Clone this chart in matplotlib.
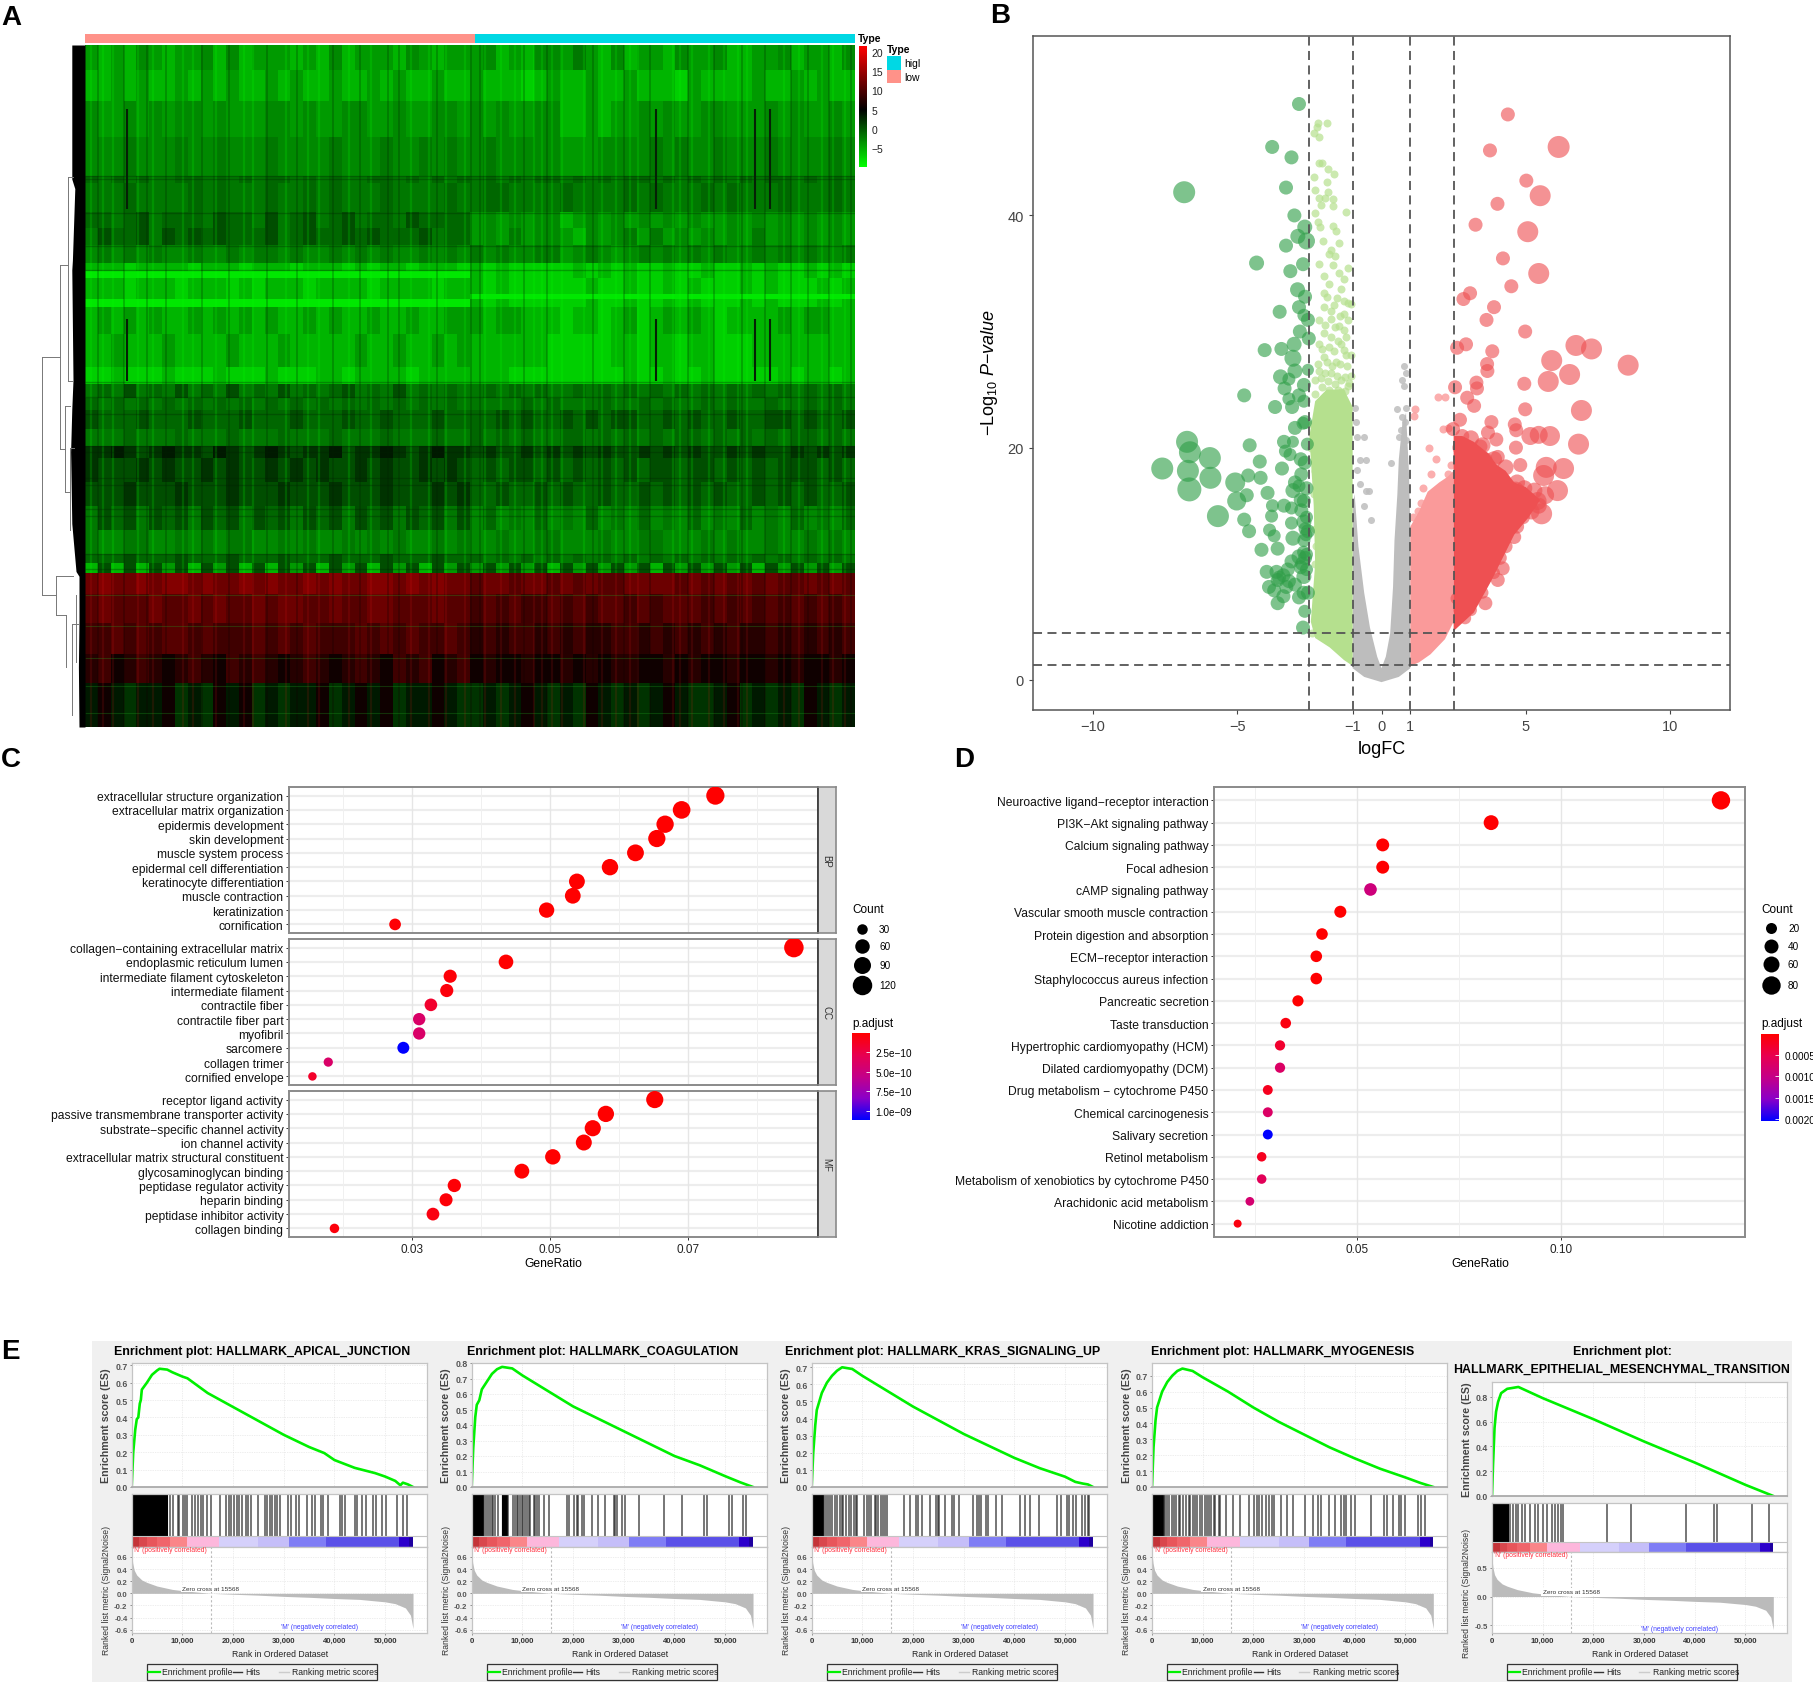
import numpy as np
import matplotlib
matplotlib.use('Agg')
import matplotlib.pyplot as plt
from matplotlib.colors import LinearSegmentedColormap, Normalize
from matplotlib.cm import ScalarMappable
from matplotlib.patches import Rectangle

plt.rcParams['font.family'] = ['Liberation Sans', 'DejaVu Sans']
plt.rcParams['mathtext.fontset'] = 'custom'
plt.rcParams['mathtext.rm'] = 'Liberation Sans'
plt.rcParams['mathtext.it'] = 'Liberation Sans:italic'
plt.rcParams['axes.unicode_minus'] = True

W, H = 1813, 1683

# ---- panel A: heatmap, one string per band of genes, low samples then high samples
heat_edges = [0, 53, 118, 193, 273, 288, 348, 383, 418, 456, 473, 486, 520, 531, 547, 603, 673,
              708, 738, 763, 803, 838, 863, 913, 963, 1013, 1063, 1083, 1103, 1148, 1208, 1273, 1333, 1425]
heat_levels = {'0': -8.5, '1': -7, '2': -5.5, '3': -4, '4': -3, '5': -2, '6': -1, '7': 0.5, '8': 2, '9': 3.5,
               'a': 6, 'b': 7.5, 'c': 9, 'd': 10.5, 'e': 12, 'f': 13.5}
heat_low = [
    "323243233424233323242333243233", "223232232323223232232232322322", "433434344343334434334433433443",
    "444544454454445444454445445454", "656565566565656656565566565656", "555655556565556556565556555565",
    "665675666576657567567566576666", "576675767676667567667676667566", "454545445445455454454545445454",
    "222122221222122212221212212221", "000000000000000000000000000000", "222122212221212221222212222122",
    "222122212221212221222212222122", "000000000000000000000000000000", "232323223232323223232232232233",
    "223222322223222322222322322323", "112111211121112111221222212222", "565756575657565756567565756565",
    "656565656565656565656565656565", "766676667666766676667667666766", "555655565556555655565556555655",
    "889878988798789878897889878988", "877787877878778787877878778787", "777877787778777877787778777878",
    "576757675767576757675767576757", "544554454545544545445454544545", "666766676667666766676667666766",
    "272727372737272737273727372737", "efeefeffefeefefeefefeeffefefee", "dedddeddededdedeeddeddeedddedd",
    "ccdcdcddcdcccdcdcdcccdcdcdccdc", "bcabcbabcbacbcbabcbabcbacbcabc", "9a9899a898a9a89899a89a9a899a98"]
heat_high = [
    "342324435324233243342233423324", "322212322322322213222232232322", "434334422323343433443334343343",
    "454444433344445454454445444454", "565656656565665656565656656565", "566555565555656555656555655565",
    "343434423434343434334343434343", "343534432434535343434353434343", "545445534543454545454454545445",
    "212111112121211211211212112121", "212111112121211211211212112121", "212111111211211212111212111212",
    "000000000000000000000000000000", "212111111211211212111212111212", "323322212212312323212222323322",
    "222222111112212212211122222222", "222111111111211211211111212212", "565656556565656565656565656565",
    "555565655565565655656556556565", "667676676767766767667667767667", "656565566565656566565656566565",
    "787787878787787878778787787878", "676776767676767767767676777676", "667667676676676767676676767667",
    "464546454645464546454645464546", "445445544454455444545445445454", "656565656565656565656565656565",
    "373737273737372737373727373737", "deedeedededdeeeedededededdeded", "cdcdccdcdcddcdcdddcdcdcdcdcdcd",
    "bcbccbcbcbbccbcbcbcbcbbcbcbcbc", "abaabaabababbaababaabaababaaba", "8989a9898a98989a9889a89898a989"]
dark_samples = [3.26, 3.26, 44.5, 44.5, 52.2, 52.2, 53.4, 53.4]
dark_from = [133, 573, 133, 573, 133, 573, 133, 573]
dark_to = [343, 703, 343, 703, 343, 703, 343, 703]
bright_samples = [0.5, 1.4, 2.2, 4.1, 5.3, 7.6, 8.4, 10.2, 12.4, 13.1, 15.7, 17.4, 18.2, 20.6, 22.3, 25.4, 26.8, 28.1,
                  29.6, 31.2, 32.4, 33.5, 35.0, 35.6, 36.4, 37.2, 38.9, 40.3, 41.4, 42.5, 43.1, 45.8, 46.4, 47.3,
                  48.6, 49.8, 50.9, 51.6, 54.5, 55.6, 57.4, 58.3, 59.2]
dark_stripes = [1.0, 3.0, 4.8, 6.3, 9.1, 11.2, 14.2, 16.5, 19.3, 21.4, 23.6, 24.5, 27.4, 30.1, 30.8, 34.2, 36.0, 39.6,
                42.0, 44.0, 47.0, 49.0, 51.2, 53.0, 55.0, 56.3, 58.0, 59.7]
dark_rows = [273, 280, 350, 420, 470, 705, 735, 770, 838, 850, 905, 920, 970, 985, 1063, 1095]
speckle_rows = [1150, 1213, 1280, 1340, 1395]
type_split = 30.4
heat_ticks = [20, 15, 10, 5, 0, -5]

# dendrogram, heights and gene rows
dend_h0 = [71, 71, 71, 42, 42, 42, 28, 33, 33, 33, 25, 48, 48, 48, 32, 22, 15, 22, 28, 28, 25]
dend_r0 = [651, 651, 1150, 460, 460, 845, 276, 755, 755, 933, 843, 1110, 1110, 1190, 1190, 1210, 1150, 1210, 276, 703, 843]
dend_h1 = [71, 42, 48, 42, 28, 33, 28, 33, 25, 25, 25, 48, 20, 32, 32, 22, 15, 12, 20, 20, 18]
dend_r1 = [1150, 651, 1150, 845, 460, 845, 703, 933, 755, 933, 1013, 1190, 1110, 1190, 1300, 1400, 1290, 1210, 276, 703, 843]
leaf_rows = [0, 280, 300, 450, 470, 700, 760, 850, 1000, 1100, 1110, 1200, 1300, 1425]
leaf_height = [22, 22, 17, 21, 22, 20, 22, 24, 22, 15, 10, 10, 11, 10]

# ---- panel B: volcano
dgreen_fc = [-2.86, -3.79, -3.12, -6.84, -3.31, -3.02, -2.66, -2.90, -2.60, -3.31, -4.33, -2.72, -3.16, -2.91, -3.53,
             -2.86, -2.69, -2.83, -2.52, -4.05, -3.47, -3.03, -3.07, -3.0, -2.55, -3.5, -3.21, -2.69, -3.36, -2.86,
             -2.69, -3.21, -4.76, -3.69, -3.0, -2.72, -6.74, -6.64, -5.95, -7.6, -6.71, -5.93, -6.66, -4.57, -3.38,
             -3.07, -2.57, -3.33, -3.17, -4.22, -3.45, -2.66, -4.62, -4.19, -2.78, -5.07, -4.67, -3.95, -3.07, -2.86,
             -5.02, -3.78, -3.38, -2.69, -5.67, -3.12, -2.78, -4.76, -3.81, -3.12, -2.69, -4.59, -3.88, -3.72, -3.07,
             -2.69, -4.16, -3.6, -2.86, -2.6, -3.98, -3.64, -3.12, -2.69, -3.72, -3.21, -2.86, -3.6, -2.66, -2.72,
             -2.6, -2.7, -3.4, -2.65, -3.3, -2.75, -3.55, -2.6, -2.8, -2.62,
             -2.7, -3.0, -3.4, -2.55, -3.25, -3.6, -3.9, -2.65, -2.55, -2.8, -3.0, -2.6, -2.8, -2.65, -3.1, -2.55, -2.65]
dgreen_p = [49.6, 45.9, 45.0, 42.0, 42.4, 40.0, 39.0, 38.2, 37.8, 37.4, 35.9, 35.8, 35.2, 33.6, 31.7,
            32.1, 31.4, 30.0, 29.4, 28.4, 28.5, 28.9, 27.7, 26.6, 26.7, 26.1, 25.9, 25.4, 25.1, 24.5,
            24.0, 24.2, 24.5, 23.5, 21.7, 22.1, 20.5, 19.6, 19.1, 18.2, 18.0, 17.4, 16.4, 20.2, 20.5,
            20.5, 20.3, 19.7, 19.4, 18.8, 18.2, 18.7, 17.6, 17.4, 17.7, 17.0, 15.9, 16.1, 16.3, 16.7,
            15.4, 15.0, 15.0, 15.4, 14.1, 14.8, 14.6, 13.8, 14.1, 13.5, 13.6, 12.8, 12.9, 12.4, 12.2,
            12.0, 11.2, 11.3, 10.6, 10.8, 9.3, 9.3, 10.2, 8.9, 7.7, 8.5, 7.1, 6.6, 5.9, 4.5,
            9.5, 11.0, 9.0, 13.0, 8.0, 10.0, 8.8, 14.0, 9.7, 12.5,
            7.5, 8.2, 7.2, 7.5, 9.5, 8.6, 8.0, 10.5, 12.8, 15.5, 17.0, 16.5, 19.0, 22.2, 23.5, 31.0, 33.0]
dgreen_r = [7, 7, 7, 11, 7, 7, 7.5, 7.5, 8.5, 7, 7.5, 7, 7, 7.5, 7,
            7, 6.5, 7, 7, 7, 7, 7.5, 8.5, 7.5, 6, 7.5, 6.5, 7, 7, 7,
            6.5, 6.5, 7, 7, 7, 6.5, 11, 11, 11, 11, 11, 11, 12, 7, 7,
            6, 6.5, 6.5, 6.5, 7, 7, 7, 7, 7, 7, 10, 7, 7, 7.5, 6.5,
            9.5, 6.5, 7, 7, 11, 6.5, 7, 7, 6.5, 6.5, 7.5, 7, 6.5, 6.5, 7.5,
            6.5, 7, 7, 7.5, 6.5, 7, 7, 7, 7.5, 7, 7, 7, 7, 6.5, 7,
            6.5, 6.5, 7, 6.5, 7, 7, 7, 6.5, 7, 6.5,
            7, 7, 7, 7, 7, 7, 7, 7, 7, 7, 7, 7, 7, 7, 7, 7, 7]

dred_fc = [4.38, 6.14, 3.76, 5.02, 5.5, 4.02, 3.26, 5.07, 4.21, 5.45, 4.5, 3.07, 2.84, 3.9, 3.64, 4.98, 2.93, 2.62,
           6.74, 7.28, 3.84, 8.55, 5.9, 3.66, 3.67, 6.52, 5.78, 3.29, 4.95, 2.55, 3.31, 2.97, 3.21, 4.98, 6.93,
           2.72, 3.81, 2.48, 4.62, 3.69, 4.67, 5.16, 5.45, 5.84, 3.98, 6.83, 2.79, 3.43, 4.66, 4.03, 3.17, 4.81,
           5.71, 6.31, 5.62, 3.69, 6.1, 4.64, 5.67, 5.41, 5.55, 4.38, 3.6, 4.03, 4.2, 2.9, 2.8, 3.1, 3.5, 3.9,
           4.1, 4.3, 4.6, 4.7, 4.9, 5.1, 4.9, 4.4, 4.2, 3.9, 3.4, 3.0, 2.7, 2.8, 3.2, 3.6, 2.6, 2.7,
           4.95, 5.3, 5.2, 5.45, 4.7, 4.3, 3.9, 3.5, 3.1]
dred_p = [48.7, 45.9, 45.6, 43.0, 41.7, 41.0, 39.2, 38.6, 36.3, 35.0, 33.9, 33.3, 32.8, 32.1, 31.0, 30.0, 28.9, 28.6,
          28.8, 28.5, 28.3, 27.1, 27.5, 27.2, 26.6, 26.3, 25.7, 25.6, 25.5, 25.2, 25.1, 24.3, 23.6, 23.3, 23.2,
          22.4, 22.2, 21.6, 22.0, 21.3, 21.5, 21.0, 21.1, 21.0, 20.7, 20.3, 20.3, 20.1, 20.0, 19.2, 18.8, 18.5,
          18.3, 18.2, 17.6, 17.9, 16.3, 16.3, 15.9, 15.4, 14.3, 15.4, 6.6, 8.6, 9.6, 5.3, 5.7, 6.0, 7.5, 9.2,
          10.5, 11.5, 12.3, 13.2, 14.0, 15.2, 15.6, 16.5, 17.0, 17.5, 18.5, 19.0, 20.0, 21.0, 19.6, 19.0, 7.0, 6.0,
          16.5, 16.3, 14.5, 15.0, 17.0, 18.3, 19.0, 20.2, 20.8]
dred_r = [7, 11, 7, 7, 10.5, 7, 7, 10.5, 7, 10.5, 7, 7, 7, 7, 7, 7, 7, 7,
          10.5, 10.5, 7, 10.5, 10.5, 7, 7, 10.5, 10.5, 7, 7, 7, 7, 7, 7, 7, 10.5,
          7, 7, 7, 7, 7, 7, 9, 9, 10, 7, 10.5, 7, 7, 7, 7, 7, 7,
          10.5, 10.5, 10.5, 7, 10.5, 9, 9, 9, 10.5, 9, 7, 7, 7, 6, 6, 6, 6, 6,
          7, 7, 7, 7, 7, 8, 7, 8, 7, 7, 7, 7, 7, 7, 7, 7, 6, 6,
          8, 8, 8, 8, 8, 8, 8, 8, 8]
dred_body_x = [2.5, 2.5, 2.8, 3.2, 3.7, 4.0, 4.3, 4.6, 5.0, 5.5, 5.1, 4.6, 4.2, 3.8, 3.2, 2.5]
dred_body_y = [4.2, 21, 21, 20.5, 19.5, 18.5, 18, 17, 16.6, 15.5, 14, 12.5, 10.5, 8.5, 5.8, 4.2]

lgreen_fc = [-2.21, -1.88, -2.24, -2.34, -2.17, -2.17, -2.05, -1.86, -1.66, -2.34, -1.88, -2.31, -1.86, -2.17, -1.97,
             -1.69, -2.09, -1.69, -1.22, -2.31, -2.21, -2.12, -1.69, -1.57, -2.03, -1.48, -1.74, -1.83, -2.17, -1.69,
             -1.17, -2.0, -1.48, -1.83, -1.4, -2.0, -1.05, -1.17, -1.66, -2.0, -1.31, -2.17, -1.74, -1.48, -2.0,
             -1.22, -2.17, -1.83, -1.4, -2.0, -1.57, -1.22, -2.17, -1.74, -1.05, -1.4, -2.09, -1.14, -1.83, -1.4,
             -2.4, -2.35, -2.3, -2.3, -2.2, -2.25, -2.45, -2.3, -2.4, -2.28,
             -1.6, -1.3, -1.9, -1.55, -1.3, -1.75, -1.45, -1.15, -1.95, -1.6, -1.3, -1.75, -1.5, -2.05, -1.65, -1.3,
             -1.05, -1.9, -1.45, -1.2, -2.2, -1.7, -1.95, -1.55, -1.25, -2.3, -1.85, -1.6, -1.15, -2.05, -1.5, -1.25, -2.3]
lgreen_p = [48.0, 48.0, 47.6, 47.1, 46.8, 44.5, 44.5, 44.0, 43.6, 43.3, 42.9, 42.2, 42.0, 41.5, 41.5,
            41.4, 40.9, 40.8, 40.3, 40.2, 39.4, 39.0, 39.1, 38.7, 37.8, 37.6, 37.0, 36.7, 35.8, 35.7,
            35.5, 34.8, 35.0, 34.1, 33.7, 33.3, 32.4, 32.5, 32.3, 32.1, 31.5, 31.0, 31.1, 30.5, 29.9,
            29.5, 28.9, 28.7, 28.9, 27.8, 27.4, 28.0, 26.6, 26.4, 26.2, 25.8, 26.0, 25.6, 25.0, 24.8,
            22.0, 16.0, 13.0, 10.0, 7.0, 5.0, 20.0, 18.0, 4.0, 11.5,
            36.5, 34.5, 33, 32.9, 32.6, 31.8, 31.3, 31, 30.6, 30.4, 30.1, 29.5, 29.2, 28.5, 28.3, 28.4,
            28, 27.4, 27.2, 27, 27.2, 27, 26.4, 26.2, 26.1, 25.8, 25.7, 25.5, 25.3, 25.2, 25, 24.9, 24.6]
lgreen_cloud_x = [-1, -1.3, -1.8, -2.3, -2.45, -2.3, -2.35, -2.5, -2.3, -1.9, -1.3, -1, -1]
lgreen_cloud_y = [1.2, 1.7, 2.8, 3.6, 5, 10, 15, 21, 24, 25, 25, 23.5, 1.2]

pink_fc = [1.97, 2.2, 1.16, 1.12, 2.3, 2.14, 1.66, 1.9, 1.7, 2.3, 1.45, 1.97, 1.36, 2.4, 1.1, 1.25]
pink_p = [24.4, 24.4, 23.3, 22.7, 21.7, 21.6, 20, 19, 17.7, 17.7, 16.5, 16, 15.2, 18.5, 14, 14.5]
pink_cloud_x = [1, 1.3, 1.7, 2.2, 2.5, 2.5, 2.3, 2.0, 1.6, 1.3, 1, 1]
pink_cloud_y = [1.2, 1.5, 2.2, 3.5, 5, 18, 17.5, 17, 16.2, 14.5, 13.2, 1.2]

grey_fc = [0.79, 0.84, 0.72, 0.79, 0.52, 0.84, 0.72, 0.81, 0.67, 0.59, 0.84, 0.76, 0.33, -0.93, -0.88, -0.84, -0.62,
           -0.76, -0.53, -0.84, -0.76, -0.53, -0.45, -0.62, -0.36]
grey_p = [27, 26.4, 25.8, 25.3, 23.3, 23.4, 22.6, 22.2, 21.5, 20.9, 20.7, 19.7, 18.7, 23.4, 22.2, 20.9, 20.9,
          18.9, 18.9, 18.1, 16.9, 16.3, 16.3, 15, 13.8]
grey_cloud_x = [-1, -1, -0.93, -0.8, -0.6, -0.4, -0.15, 0, 0.15, 0.3, 0.4, 0.45, 0.55, 0.6, 0.72, 0.85, 0.95, 1, 1, 0.6, 0, -0.6, -1]
grey_cloud_y = [1, 15, 16, 11.5, 7.5, 4.5, 2, 1, 2, 4, 8, 12, 16, 19, 22, 23, 18, 13, 1, 0.25, -0.2, 0.25, 1]

# ---- panel C: GO dots
go_terms = {
    'BP': ['extracellular structure organization', 'extracellular matrix organization', 'epidermis development',
           'skin development', 'muscle system process', 'epidermal cell differentiation',
           'keratinocyte differentiation', 'muscle contraction', 'keratinization', 'cornification'],
    'CC': ['collagen\u2212containing extracellular matrix', 'endoplasmic reticulum lumen',
           'intermediate filament cytoskeleton', 'intermediate filament', 'contractile fiber',
           'contractile fiber part', 'myofibril', 'sarcomere', 'collagen trimer', 'cornified envelope'],
    'MF': ['receptor ligand activity', 'passive transmembrane transporter activity',
           'substrate\u2212specific channel activity', 'ion channel activity',
           'extracellular matrix structural constituent', 'glycosaminoglycan binding',
           'peptidase regulator activity', 'heparin binding', 'peptidase inhibitor activity', 'collagen binding'],
}
go_ratio = {
    'BP': [.0740, .0691, .0667, .0655, .0624, .0587, .0539, .0533, .0495, .0275],
    'CC': [.0854, .0436, .0355, .0350, .0327, .0310, .0310, .0287, .0178, .0155],
    'MF': [.0652, .0581, .0562, .0549, .0504, .0459, .0361, .0349, .0330, .0187],
}
go_count = {
    'BP': [105, 98, 94, 93, 88, 83, 76, 75, 70, 39],
    'CC': [121, 62, 50, 50, 46, 44, 44, 41, 25, 22],
    'MF': [92, 82, 80, 78, 71, 65, 51, 49, 47, 26],
}
go_padj = {
    'BP': [1e-12, 1e-12, 1e-12, 1e-12, 1e-12, 1e-12, 1e-12, 1e-12, 1e-12, 2e-11],
    'CC': [1e-12, 1e-12, 3e-11, 4e-11, 1.6e-10, 4e-10, 4e-10, 1.12e-9, 4e-10, 1.5e-10],
    'MF': [1e-12, 1e-12, 1e-12, 1e-12, 1e-12, 1e-12, 2e-11, 3e-11, 6e-11, 4e-11],
}
go_xticks = [.03, .05, .07]
go_minor = [.02, .04, .06, .08]
go_size_counts = [30, 60, 90, 120]
go_padj_ticks = [2.5e-10, 5e-10, 7.5e-10, 1e-9]
go_padj_labels = ['2.5e\u221210', '5.0e\u221210', '7.5e\u221210', '1.0e\u221209']

# ---- panel D: KEGG dots
kegg_terms = ['Neuroactive ligand\u2212receptor interaction', 'PI3K\u2212Akt signaling pathway', 'Calcium signaling pathway',
              'Focal adhesion', 'cAMP signaling pathway', 'Vascular smooth muscle contraction',
              'Protein digestion and absorption', 'ECM\u2212receptor interaction', 'Staphylococcus aureus infection',
              'Pancreatic secretion', 'Taste transduction', 'Hypertrophic cardiomyopathy (HCM)',
              'Dilated cardiomyopathy (DCM)', 'Drug metabolism \u2212 cytochrome P450', 'Chemical carcinogenesis',
              'Salivary secretion', 'Retinol metabolism', 'Metabolism of xenobiotics by cytochrome P450',
              'Arachidonic acid metabolism', 'Nicotine addiction']
kegg_ratio = [.1393, .0829, .0563, .0563, .0533, .0459, .0414, .0400, .0400, .0355,
              .0325, .0311, .0311, .0281, .0281, .0281, .0266, .0266, .0237, .0207]
kegg_count = [82, 49, 33, 33, 31, 27, 24, 24, 24, 21, 19, 18, 18, 17, 17, 17, 16, 16, 14, 12]
kegg_padj = [1e-6, 1e-5, 1e-5, 1e-5, .0009, 1e-5, 1e-5, 1e-5, 1e-5, 1e-5,
             .0001, .0003, .0007, .0002, .0007, .00205, .0002, .0006, .0008, .0001]
kegg_xticks = [.05, .10]
kegg_minor = [.025, .075, .125]
kegg_size_counts = [20, 40, 60, 80]
kegg_padj_ticks = [.0005, .0010, .0015, .0020]

# ---- panel E: GSEA
gsea_titles = [['Enrichment plot: HALLMARK_APICAL_JUNCTION'], ['Enrichment plot: HALLMARK_COAGULATION'],
               ['Enrichment plot: HALLMARK_KRAS_SIGNALING_UP'], ['Enrichment plot: HALLMARK_MYOGENESIS'],
               ['Enrichment plot:', 'HALLMARK_EPITHELIAL_MESENCHYMAL_TRANSITION']]
es_rank = [
    [0, 300, 700, 1000, 1300, 1600, 1800, 2000, 3000, 4000, 5000, 5500, 7000, 8000, 10000, 11000, 15000, 20000, 25000,
     30000, 35000, 38000, 40000, 44000, 46000, 48000, 50000, 52000, 53000, 53500, 54500, 55500],
    [0, 300, 700, 1000, 1500, 2000, 3000, 4000, 5000, 6000, 8000, 10000, 15000, 20000, 25000, 30000, 35000, 40000,
     45000, 50000, 53000, 55500],
    [0, 300, 700, 1000, 1500, 2000, 3000, 4000, 5000, 6000, 8000, 10000, 15000, 20000, 25000, 30000, 35000, 40000,
     45000, 50000, 52000, 53500, 54500, 55500],
    [0, 300, 700, 1000, 1500, 2000, 3000, 4000, 5000, 6000, 8000, 10000, 15000, 20000, 25000, 30000, 35000, 40000,
     45000, 50000, 53000, 55500],
    [0, 200, 500, 800, 1200, 1800, 3000, 5200, 10000, 20000, 30000, 40000, 50000, 55500],
]
es_value = [
    [0, .2, .33, .39, .40, .48, .50, .56, .60, .645, .67, .68, .675, .66, .635, .625, .54, .46, .38,
     .30, .23, .195, .155, .11, .095, .08, .06, .035, .01, .025, .015, 0],
    [0, .25, .45, .53, .56, .63, .68, .73, .76, .775, .765, .72, .62, .52, .44, .36, .28, .20, .14, .07, .03, 0],
    [0, .2, .36, .45, .50, .55, .61, .65, .68, .70, .69, .65, .56, .47, .39, .31, .24, .17, .11, .06, .03, .02, .015, 0],
    [0, .25, .42, .50, .55, .60, .66, .70, .73, .745, .73, .69, .60, .50, .41, .33, .25, .18, .115, .06, .025, 0],
    [0, .25, .55, .68, .76, .83, .865, .88, .79, .62, .44, .27, .09, 0],
]
es_top = [.713, .80, .725, .78, .92]
es_ticks = [[0, .1, .2, .3, .4, .5, .6, .7], [0, .1, .2, .3, .4, .5, .6, .7, .8], [0, .1, .2, .3, .4, .5, .6, .7],
            [0, .1, .2, .3, .4, .5, .6, .7], [0, .2, .4, .6, .8]]
hit_dense = [
    [0, .2, .4, .6, .8, 1, 1.2, 1.4, 1.7, 2, 2.3, 2.6, 2.9, 3.2, 3.5, 3.8, 4.2, 4.5, 4.8, 5.1, 5.4, 5.7, 6, 6.3, 6.6, 7],
    [0, .15, .3, .45, .6, .75, .9, 1.05, 1.2, 1.35, 1.5, 1.65, 1.8, 1.95, 2.1, 2.25, 6.1, 6.25, 6.4, 6.55, 6.7, 6.85, 7.0],
    [0, .15, .3, .45, .6, .75, .9, 1.05, 1.2, 1.35, 1.5, 1.65, 1.8, 1.95, 2.1, 2.25],
    [0, .15, .3, .45, .6, .75, .9, 1.05, 1.2, 1.35, 1.5, 1.65, 1.8, 1.95, 2.1],
    [0, .15, .3, .45, .6, .75, .9, 1.05, 1.2, 1.35, 1.5, 1.65, 1.8, 1.95, 2.1, 2.25, 2.4, 2.6, 2.8, 3.0, 3.2],
]
hit_sparse = [
    [7.57, 8.1, 9.08, 9.4, 10.07, 10.5, 11, 11.8, 12.5, 13, 13.6, 14, 14.8, 15.6, 17.4, 18.55, 19.1, 19.5, 20.2, 20.7,
     21.25, 21.8, 22.5, 23, 23.5, 25, 26.2, 26.6, 27.2, 27.6, 28.2, 28.6, 29.3, 30.9, 31.4, 32.4, 33.1, 34.5, 35.5,
     36.2, 37.4, 37.8, 38.8, 41, 41.4, 42.1, 44.1, 44.5, 45.4, 46.25, 47.7, 48.2, 49.3, 50.2, 52.4, 53.5, 54.3],
    [2.5, 2.76, 3.16, 3.6, 3.95, 4.3, 4.6, 5.26, 7.24, 8.2, 8.55, 8.9, 9.2, 9.5, 9.87, 10.2, 10.5, 10.85, 11.4, 11.6,
     12.2, 12.5, 12.8, 13.3, 14.2, 15.3, 18.75, 19.2, 20.1, 20.7, 21.05, 21.7, 22.2, 23.7, 25, 26.3, 28, 28.3, 28.7,
     29.7, 30.3, 33, 38, 41.4, 45.8, 46.4, 50.7, 51.3, 53.5, 54.1],
    [2.5, 2.83, 3.16, 3.6, 4.08, 4.6, 4.93, 5.6, 5.9, 6.25, 6.7, 7.43, 7.7, 8.36, 8.7, 8.9, 10.3, 10.85, 11.3, 11.65,
     12.4, 12.6, 13, 13.6, 14, 14.5, 14.9, 18.2, 19.4, 20.6, 21.05, 21.8, 23.35, 24.5, 24.9, 25.2, 26.3, 27.6, 28,
     29.1, 31.8, 32.7, 33, 33.35, 34.4, 34.7, 36.3, 37.6, 41, 42, 43.1, 44.8, 48.35, 49.1, 50.3, 50.7, 51.6, 52.1,
     53.4, 53.9, 54.5, 54.8],
    [2.3, 2.63, 2.96, 3.42, 3.95, 4.4, 4.8, 5.26, 5.6, 6.05, 6.7, 7.24, 7.57, 8.03, 8.42, 8.88, 9.4, 9.87, 10.4, 10.85,
     11.3, 11.65, 12.2, 12.5, 13.16, 13.5, 14.6, 16.05, 17.4, 19.1, 20.2, 20.7, 21.05, 21.7, 22.5, 23, 23.7, 24.1,
     25.5, 26.6, 27.8, 30.1, 31.7, 32.7, 33.35, 34.9, 36.05, 37.2, 37.8, 38.2, 39.3, 40, 43.2, 45.8, 46.4, 47.6, 48.8,
     49.2, 49.9, 52.4, 53, 53.8],
    [3.56, 4.08, 4.74, 5.2, 5.86, 6.5, 7.5, 8.5, 9.16, 10.1, 10.8, 11.8, 12.45, 13.1, 13.57, 13.97, 22.6, 27.5, 38.3,
     43.7, 44.3, 51.3, 54.7],
]
band_edges = [0, 1500, 3000, 5000, 7500, 10900, 17300, 25000, 31000, 38300, 52800, 54800, 55500]
band_colors = ['#C43338', '#D9474D', '#E8555B', '#F0656B', '#FA8589', '#FDB7DC', '#D5D0FB', '#C5BEF9', '#7F7DF5',
               '#5A50E8', '#2C00CC', '#1E00A0']
metric_rank = [0, 200, 500, 1000, 2000, 3000, 5000, 8000, 10000, 15568, 20000, 25000, 30000, 35000, 40000, 45000,
               50000, 52000, 54000, 55000, 55500]
metric_value = [.66, .50, .38, .30, .22, .18, .12, .065, .045, 0, -.015, -.03, -.05, -.065, -.085, -.10,
                -.14, -.17, -.24, -.36, -.58]
gsea_lefts = [131.7, 471.7, 811.7, 1152, 1492]

red_blue = LinearSegmentedColormap.from_list('rb', ['#FF0000', '#E8004F', '#C40088', '#8A00C8', '#0000FF'])
heat_cmap = LinearSegmentedColormap.from_list(
    'gbr', [(0, '#00FF00'), (.4745, '#000000'), (1, '#FF0000')])
heat_norm = Normalize(-9.9, 21.5)

fig = plt.figure(figsize=(W / 100, H / 100), dpi=100)


def ax_px(l, t, r, b, **kw):
    return fig.add_axes([l / W, 1 - b / H, (r - l) / W, (b - t) / H], **kw)


ov = ax_px(0, 0, W, H)
ov.set_xlim(0, W)
ov.set_ylim(H, 0)
ov.axis('off')
ov.set_zorder(-1)


def msize(d):
    # diameter in pixels to scatter size
    return (np.asarray(d) * .72) ** 2


for lab, x, y in [('A', 11, 18), ('B', 1000, 16), ('C', 11, 760), ('D', 964, 760), ('E', 10, 1352)]:
    ov.text(x, y, lab, fontsize=20, fontweight='bold', ha='center', va='center')

# ---------------- A
ax = ax_px(85, 46, 855, 728)
mat = np.array([[heat_levels[c] for c in (a + b).ljust(60, '5')[:60]] for a, b in zip(heat_low, heat_high)])
ax.pcolormesh(np.arange(61), heat_edges, mat, cmap=heat_cmap, norm=heat_norm, rasterized=True)
ax.vlines(bright_samples, 0, 1103, color='#00FF00', alpha=.2, lw=1.6)
ax.vlines(dark_stripes, 0, 1103, color='#002000', alpha=.28, lw=1.2)
ax.vlines(bright_samples, 1103, 1425, color='#FF2020', alpha=.12, lw=1.6)
ax.vlines(dark_stripes, 1103, 1425, color='#100000', alpha=.3, lw=1.2)
ax.hlines(dark_rows, 0, 60, color='#002000', alpha=.3, lw=1)
ax.hlines(speckle_rows, 0, 60, color='#20A020', alpha=.3, lw=.8)
ax.vlines(dark_samples, dark_from, dark_to, color='#062006', lw=1.5)
ax.set_xlim(0, 60)
ax.set_ylim(1425, 0)
ax.axis('off')

ax = ax_px(85, 34.5, 855, 43.5)
ax.axvspan(0, type_split, color='#FF9289', lw=0)
ax.axvspan(type_split, 60, color='#00D8E4', lw=0)
ax.set_xlim(0, 60)
ax.axis('off')

ax = ax_px(25, 46, 85, 728)
ax.fill_betweenx(leaf_rows, leaf_height, 0, color='black', lw=0)
for h0, r0, h1, r1 in zip(dend_h0, dend_r0, dend_h1, dend_r1):
    ax.plot([h0, h1], [r0, r1], color='#777777', lw=.7)
ax.set_xlim(100, 0)
ax.set_ylim(1425, 0)
ax.axis('off')

cax = ax_px(859, 47, 867, 168)
cb = fig.colorbar(ScalarMappable(norm=heat_norm, cmap=heat_cmap), cax=cax)
cb.outline.set_visible(False)
cb.set_ticks(heat_ticks)
cb.set_ticklabels([str(t).replace('-', '\u2212') for t in heat_ticks])
cax.tick_params(length=0, labelsize=7.5, pad=3, colors='#222222')
ov.text(858, 39, 'Type', fontsize=7.5, fontweight='bold', va='center')
ov.text(887, 50, 'Type', fontsize=7.5, fontweight='bold', va='center')
ov.add_patch(Rectangle((887, 57), 14, 14, color='#00D8E4', lw=0))
ov.add_patch(Rectangle((887, 71), 14, 13, color='#FF9289', lw=0))
ov.text(904, 64, 'higl', fontsize=7.5, va='center')
ov.text(904, 78, 'low', fontsize=7.5, va='center')

# ---------------- B
ax = ax_px(1033, 36.5, 1730, 711)
ax.fill(grey_cloud_x, grey_cloud_y, color='#BDBDBD', lw=0, zorder=1)
ax.scatter(grey_fc, grey_p, s=msize(7), color='#BDBDBD', alpha=.85, lw=0, zorder=1)
ax.fill(pink_cloud_x, pink_cloud_y, color='#FA9A9A', lw=0, zorder=2)
ax.scatter(pink_fc, pink_p, s=msize(8), color='#FA9A9A', alpha=.8, lw=0, zorder=2)
ax.fill(lgreen_cloud_x, lgreen_cloud_y, color='#B5E08E', lw=0, zorder=2)
ax.scatter(lgreen_fc, lgreen_p, s=msize(8), color='#B5E08E', alpha=.7, lw=0, zorder=2)
ax.fill(dred_body_x, dred_body_y, color='#EE5052', lw=0, zorder=3)
ax.scatter(dred_fc, dred_p, s=msize(2 * np.array(dred_r)), color='#EE5052', alpha=.62, lw=0, zorder=3)
ax.scatter(dgreen_fc, dgreen_p, s=msize(2 * np.array(dgreen_r)), color='#2F9E48', alpha=.62, lw=0, zorder=3)
for v in [-2.5, -1, 1, 2.5]:
    ax.axvline(v, color='#555555', lw=1.3, dashes=(5, 3), zorder=4)
for v in [1.3, 4]:
    ax.axhline(v, color='#555555', lw=1.3, dashes=(5, 3), zorder=4)
ax.set_xlim(-12.08, 12.08)
ax.set_ylim(-2.6, 55.5)
ax.set_xticks([-10, -5, -1, 0, 1, 5, 10])
ax.set_yticks([0, 20, 40])
ax.tick_params(labelsize=10.5, labelcolor='#444444', color='#444444', length=3, width=.8)
for s in ax.spines.values():
    s.set_color('#555555')
    s.set_linewidth(1.1)
ax.set_xlabel('logFC', fontsize=13, labelpad=5)
ov.text(989, 372, r'$-\mathrm{Log}_{10}\ \mathit{P{-}value}$', fontsize=13, rotation=90, ha='center', va='center')


# ---------------- C and D
def dot_axes(box, ratio, count, padj, terms, xlim, xticks, minor, counts, sizes, vmax):
    ax = ax_px(*box)
    n = len(terms)
    ypos = np.arange(n, 0, -1)
    ax.set_axisbelow(True)
    ax.hlines(ypos, xlim[0], xlim[1], color='#EDEDED', lw=1.6, zorder=0)
    ax.vlines(xticks, .4, n + .6, color='#E6E6E6', lw=1.0, zorder=0)
    ax.vlines(minor, .4, n + .6, color='#F0F0F0', lw=.7, zorder=0)
    diam = np.interp(count, counts, sizes)
    ax.scatter(ratio, ypos, s=msize(diam), c=padj, cmap=red_blue, vmin=0, vmax=vmax, lw=0, zorder=3)
    ax.set_xlim(*xlim)
    ax.set_ylim(.4, n + .6)
    ax.set_yticks(ypos)
    ax.set_yticklabels(terms, fontsize=8.7, color='#111111')
    ax.set_xticks(xticks)
    ax.tick_params(length=2.5, width=.7, color='#333333', pad=1.5)
    ax.tick_params(axis='x', labelsize=8.5, labelcolor='#222222')
    for s in ax.spines.values():
        s.set_color('#8A8A8A')
        s.set_linewidth(1.4)
    return ax


def dot_legend(x, yc, counts, diam, ticks, labels, vmax, bar_top, bar_bottom):
    ov.text(x, 910, 'Count', fontsize=8.5, va='center')
    for c, d, y in zip(counts, diam, yc):
        ov.scatter([x + 10], [y], s=msize(d), color='black', lw=0)
        ov.text(x + 27, y, str(c), fontsize=7.2, va='center')
    ov.text(x, 1024, 'p.adjust', fontsize=8.5, va='center')
    cax = ax_px(x, bar_top, x + 18, bar_bottom)
    cb = fig.colorbar(ScalarMappable(norm=Normalize(0, vmax), cmap=red_blue), cax=cax)
    cb.outline.set_visible(False)
    cb.set_ticks(ticks)
    cb.set_ticklabels(labels)
    cax.invert_yaxis()
    cax.tick_params(length=3, width=.6, color='white', direction='in', labelsize=7.2, pad=4)


go_xlim = (.0121, .0889)
facets = [('BP', 788, 934), ('CC', 940, 1086), ('MF', 1092, 1238)]
for name, t, b in facets:
    a = dot_axes((289, t, 818, b), go_ratio[name], go_count[name], go_padj[name], go_terms[name], go_xlim,
                 go_xticks, go_minor, [20, 30, 60, 90, 120], [8, 10.5, 14.5, 17, 19.5], 1.12e-9)
    if name != 'MF':
        a.tick_params(axis='x', length=0, labelbottom=False)
    else:
        a.set_xticklabels(['0.03', '0.05', '0.07'])
    st = ax_px(818, t, 835.5, b)
    st.set_facecolor('#D9D9D9')
    st.set_xticks([])
    st.set_yticks([])
    for s in st.spines.values():
        s.set_color('#8A8A8A')
        s.set_linewidth(1.2)
    st.spines['left'].set_color('#333333')
    st.text(.5, .5, name, transform=st.transAxes, rotation=-90, fontsize=7, color='#333333', ha='center', va='center')
ov.text(553, 1264, 'GeneRatio', fontsize=8.7, ha='center', va='center')
dot_legend(852, [930, 947, 966, 986], go_size_counts, [10.5, 14.5, 17, 19.5],
           go_padj_ticks, go_padj_labels, 1.12e-9, 1034, 1121)

a = dot_axes((1214, 788, 1745, 1238), kegg_ratio, kegg_count, kegg_padj, kegg_terms, (.0149, .1452),
             kegg_xticks, kegg_minor, [12, 20, 40, 60, 80], [8, 11, 14, 16, 18.4], .00205)
a.set_xticklabels(['0.05', '0.10'])
ov.text(1480, 1264, 'GeneRatio', fontsize=8.7, ha='center', va='center')
dot_legend(1761, [929, 947, 965, 986], kegg_size_counts, [11, 14, 16, 18.4],
           kegg_padj_ticks, ['0.0005', '0.0010', '0.0015', '0.0020'], .00205, 1035, 1122)

# ---------------- E
ov.add_patch(Rectangle((92, 1342), 1700, 341, color='#F0F0F0', lw=0))


def style_gsea(ax):
    ax.set_facecolor('white')
    for s in ax.spines.values():
        s.set_color('#C4C4C4')
        s.set_linewidth(.9)
    ax.set_xlim(0, 58200)
    ax.tick_params(length=1.5, width=.5, color='#666666', pad=1.5)
    ax.grid(True, color='#DDDDDD', lw=.5, ls=(0, (1, 1.5)))
    ax.set_axisbelow(True)


for i, left in enumerate(gsea_lefts):
    right = left + 295
    two = i == 4
    t0, t1 = (1383, 1497) if two else (1364, 1488)
    h0, h1 = (1504, 1543) if two else (1495.3, 1537)
    b1 = 1553 if two else 1548
    m1 = 1633.7
    for k, line in enumerate(gsea_titles[i]):
        ty = 1352 + 18 * k
        ov.text((left + right) / 2 - (17 if not two else 17.5), ty, line, fontsize=8.9, fontweight='bold',
                ha='center', va='center')
    # enrichment curve
    ax = ax_px(left, t0, right, t1)
    style_gsea(ax)
    ax.plot(es_rank[i], es_value[i], color='#00F000', lw=1.9, solid_joinstyle='round')
    ax.set_ylim(0, es_top[i])
    ax.set_yticks(es_ticks[i])
    ax.set_yticklabels(['%.1f' % v for v in es_ticks[i]], fontsize=6.3, color='#555555', fontweight='bold')
    ax.set_xticks([0, 10000, 20000, 30000, 40000, 50000])
    ax.tick_params(axis='x', labelbottom=False, length=0)
    ax.spines['bottom'].set_color('#AAAAAA')
    ax.spines['bottom'].set_linewidth(1.3)
    ov.text(left - 25.5, (t0 + t1) / 2, 'Enrichment score (ES)', fontsize=7.7, fontweight='bold', color='#444444',
            rotation=90, ha='center', va='center')
    # hits and rank band
    ax = ax_px(left, h0, right, b1)
    ax.set_xlim(0, 58200)
    ax.set_ylim(0, 1)
    ax.set_facecolor('white')
    ax.set_xticks([])
    ax.set_yticks([])
    for s in ax.spines.values():
        s.set_color('#C4C4C4')
        s.set_linewidth(.9)
    band_frac = (b1 - h1) / (b1 - h0)
    ax.vlines(np.array(hit_dense[i]) * 1000, band_frac, 1, color='black', lw=1.5)
    ax.vlines(np.array(hit_sparse[i]) * 1000, band_frac, 1, color='#222222', alpha=.62, lw=1.4)
    ax.axhline(band_frac, color='#C4C4C4', lw=.8)
    for j, c in enumerate(band_colors):
        ax.add_patch(Rectangle((band_edges[j], 0), band_edges[j + 1] - band_edges[j], band_frac, color=c, lw=0))
    # ranked metric
    ax = ax_px(left, b1, right, m1)
    style_gsea(ax)
    ax.fill_between(metric_rank, metric_value, 0, color='#BBBBBB', lw=0)
    ax.axvline(15568, color='#BBBBBB', lw=.8, ls=(0, (2, 2)))
    ax.text(10000, .08, 'Zero cross at 15568', fontsize=4.6, color='#333333', va='center',
            bbox=dict(facecolor='white', edgecolor='none', pad=1))
    if two:
        ax.set_ylim(-.632, .777)
        ax.set_yticks([-.5, 0, .5])
        ax.set_yticklabels(['-0.5', '0.0', '0.5'], fontsize=5.6, color='#555555', fontweight='bold')
    else:
        ax.set_ylim(-.648, .763)
        yt = [-.6, -.4, -.2, 0, .2, .4, .6]
        ax.set_yticks(yt)
        ax.set_yticklabels(['%.1f' % v for v in yt], fontsize=5.6, color='#555555', fontweight='bold')
    ax.set_xticks([0, 10000, 20000, 30000, 40000, 50000])
    ax.set_xticklabels(['0', '10,000', '20,000', '30,000', '40,000', '50,000'], fontsize=5.6, color='#333333',
                       fontweight='bold')
    ax.text(37000, -.55, "'M' (negatively correlated)", fontsize=4.9, color='#4040FF', ha='center', va='center')
    ax.text(300, .72 if not two else .74, "'N' (positively correlated)", fontsize=4.9, color='#FF3040', va='center')
    ov.text(left + 148, 1655, 'Rank in Ordered Dataset', fontsize=6.2, color='#222222', ha='center', va='center')
    ov.text(left - 25.5, (b1 + m1) / 2 if two else 1590, 'Ranked list metric (Signal2Noise)', fontsize=6.2,
            color='#333333', rotation=90, ha='center', va='center')
    # legend box drawn by hand, as in the GSEA output
    ov.add_patch(Rectangle((left + 15.3, 1665), 230, 16, facecolor='#F0F0F0', edgecolor='#333333', lw=.9))
    ov.plot([left + 16.6, left + 28.3], [1673, 1673], color='#00F000', lw=1.6)
    ov.text(left + 30, 1673, 'Enrichment profile', fontsize=6.2, color='#222222', va='center')
    ov.plot([left + 101.6, left + 110.6], [1673, 1673], color='#333333', lw=1)
    ov.text(left + 114, 1673, 'Hits', fontsize=6.2, color='#222222', va='center')
    ov.plot([left + 147.3, left + 157.3], [1673, 1673], color='#CCCCCC', lw=1)
    ov.text(left + 160.6, 1673, 'Ranking metric scores', fontsize=6.2, color='#222222', va='center')

ov.set_xlim(0, W)
ov.set_ylim(H, 0)
fig.savefig('out.png', dpi=100)
